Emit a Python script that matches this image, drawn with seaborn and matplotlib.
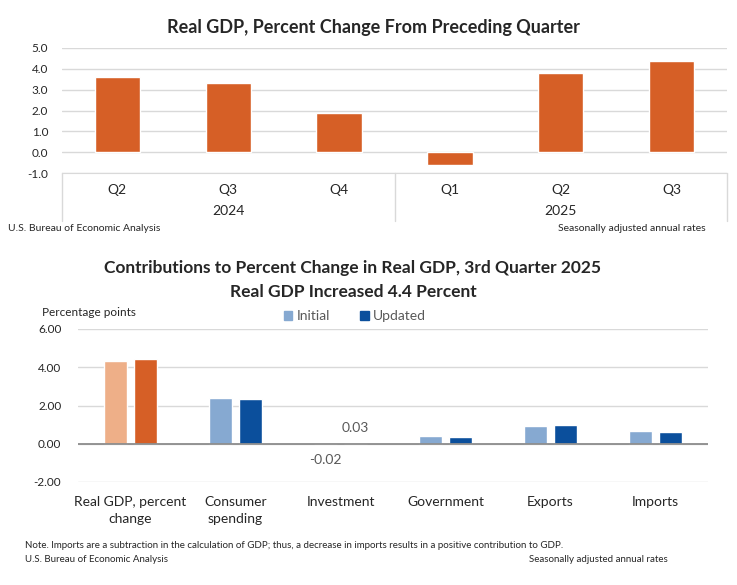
import pandas as pd
import matplotlib.pyplot as plt
import seaborn as sns
from matplotlib.patches import Patch
import matplotlib.transforms as mtransforms

# --- data ---
periods = ['2024 Q2', '2024 Q3', '2024 Q4', '2025 Q1', '2025 Q2', '2025 Q3']
quarter_labels = ['Q2', 'Q3', 'Q4', 'Q1', 'Q2', 'Q3']
years = ['2024', '2025']
gdp_change = [3.6, 3.3, 1.9, -0.6, 3.8, 4.4]

components = ['Real GDP, percent\nchange', 'Consumer\nspending', 'Investment',
              'Government', 'Exports', 'Imports']
initial = [4.33, 2.38, -0.02, 0.38, 0.93, 0.66]
updated = [4.43, 2.33, 0.03, 0.36, 1.00, 0.61]

sns.set_style('white')
plt.rcParams['font.family'] = ['Liberation Sans Narrow', 'Lato', 'DejaVu Sans']

ORANGE = '#D65F26'
LIGHT_ORANGE = '#EEAF88'
LIGHT_BLUE = '#86A9D1'
DARK_BLUE = '#0B4F9C'
GRID = '#D9D9D9'
TXT = '#262626'

fig = plt.figure(figsize=(7.37, 5.85), dpi=100)
W, H = 737, 585


def px_axes(left, right, top, bottom):
    return fig.add_axes([left / W, 1 - bottom / H, (right - left) / W, (bottom - top) / H])


# ---------------- top chart ----------------
ax1 = px_axes(62, 727, 48, 173)
top_df = pd.DataFrame({'period': periods, 'change': gdp_change})
sns.barplot(data=top_df, x='period', y='change', color=ORANGE, saturation=1,
            width=0.41, ax=ax1, zorder=3)
ax1.set_ylim(-1, 5)
ax1.set_xlim(-0.5, 5.5)
ax1.set_yticks(range(-1, 6))
ax1.set_yticklabels([f'{v:.1f}' for v in range(-1, 6)], fontsize=8.5, color=TXT)
ax1.set_xticks(range(6))
ax1.set_xticklabels(quarter_labels, fontsize=10, color=TXT)
ax1.tick_params(axis='x', length=0, pad=8)
ax1.tick_params(axis='y', length=0, pad=10)
ax1.set_xlabel('')
ax1.set_ylabel('')
ax1.grid(axis='y', color=GRID, linewidth=1, zorder=0)
for s in ['top', 'right', 'left']:
    ax1.spines[s].set_visible(False)
ax1.spines['bottom'].set_color(GRID)
fig.text(373 / W, 1 - 28 / H, 'Real GDP, Percent Change From Preceding Quarter',
         fontsize=13, fontweight='bold', ha='center', va='center')

trans = mtransforms.blended_transform_factory(ax1.transData, ax1.transAxes)
for xv in [-0.5, 2.5, 5.5]:
    ax1.plot([xv, xv], [0, -0.38], transform=trans, color=GRID, lw=1, clip_on=False)
for i, yr in enumerate(years):
    ax1.text(1 + 3 * i, -0.305, yr, transform=trans, ha='center', va='center',
             fontsize=10, color=TXT)

fig.text(8 / W, 1 - 229 / H, 'U.S. Bureau of Economic Analysis', fontsize=7.5,
         va='center', color=TXT)
fig.text(706 / W, 1 - 229 / H, 'Seasonally adjusted annual rates', fontsize=7.5,
         va='center', ha='right', color=TXT)

# ---------------- bottom chart ----------------
ax2 = px_axes(78, 708, 329, 482)
bot_df = pd.DataFrame({
    'component': components * 2,
    'series': ['Initial'] * len(components) + ['Updated'] * len(components),
    'value': initial + updated,
})
sns.barplot(data=bot_df, x='component', y='value', hue='series',
            palette={'Initial': LIGHT_BLUE, 'Updated': DARK_BLUE}, saturation=1,
            width=0.56, gap=0.21, ax=ax2, legend=False, zorder=3)
ax2.containers[0][0].set_facecolor(LIGHT_ORANGE)
ax2.containers[1][0].set_facecolor(ORANGE)

ax2.set_ylim(-2, 6)
ax2.set_xlim(-0.5, 5.5)
ax2.set_yticks([-2, 0, 2, 4, 6])
ax2.set_yticklabels([f'{v:.2f}' for v in [-2, 0, 2, 4, 6]], fontsize=8.5, color=TXT)
ax2.tick_params(axis='y', length=0, pad=12)
ax2.tick_params(axis='x', length=0, pad=10)
ax2.set_xticks(range(len(components)))
ax2.set_xticklabels(components, fontsize=10, color=TXT, linespacing=1.5)
ax2.set_xlabel('')
ax2.set_ylabel('')
ax2.grid(axis='y', color=GRID, linewidth=1, zorder=0)
ax2.axhline(0, color='#8C8C8C', lw=1.3, zorder=4)
for s in ax2.spines.values():
    s.set_visible(False)

# value labels for investment
inv = components.index('Investment')
off = 0.56 / 4
ax2.text(inv - off, initial[inv] - 0.85, f'{initial[inv]:.2f}', ha='center', va='center',
         fontsize=10, color='#595959')
ax2.text(inv + off, updated[inv] + 0.8, f'{updated[inv]:.2f}', ha='center', va='center',
         fontsize=10, color='#595959')

fig.text(353 / W, 1 - 268 / H, 'Contributions to Percent Change in Real GDP, 3rd Quarter 2025',
         fontsize=12.5, fontweight='bold', ha='center', va='center')
fig.text(353 / W, 1 - 292 / H, 'Real GDP Increased 4.4 Percent',
         fontsize=12.5, fontweight='bold', ha='center', va='center')
fig.text(42 / W, 1 - 312 / H, 'Percentage points', fontsize=8.5, va='center', color=TXT)

handles = [Patch(color=LIGHT_BLUE, label='Initial'), Patch(color=DARK_BLUE, label='Updated')]
fig.legend(handles=handles, loc='center', bbox_to_anchor=(355 / W, 1 - 316 / H), ncol=2,
           frameon=False, fontsize=10, handlelength=0.6, handleheight=0.6,
           handletextpad=0.3, columnspacing=2.2, labelcolor='#595959')

fig.text(25 / W, 1 - 545 / H,
         'Note. Imports are a subtraction in the calculation of GDP; thus, a decrease in imports '
         'results in a positive contribution to GDP.', fontsize=7, va='center', color=TXT)
fig.text(25 / W, 1 - 559 / H, 'U.S. Bureau of Economic Analysis', fontsize=7, va='center',
         color=TXT)
fig.text(668 / W, 1 - 559 / H, 'Seasonally adjusted annual rates', fontsize=7, va='center',
         ha='right', color=TXT)

fig.savefig('out.png', dpi=100)
